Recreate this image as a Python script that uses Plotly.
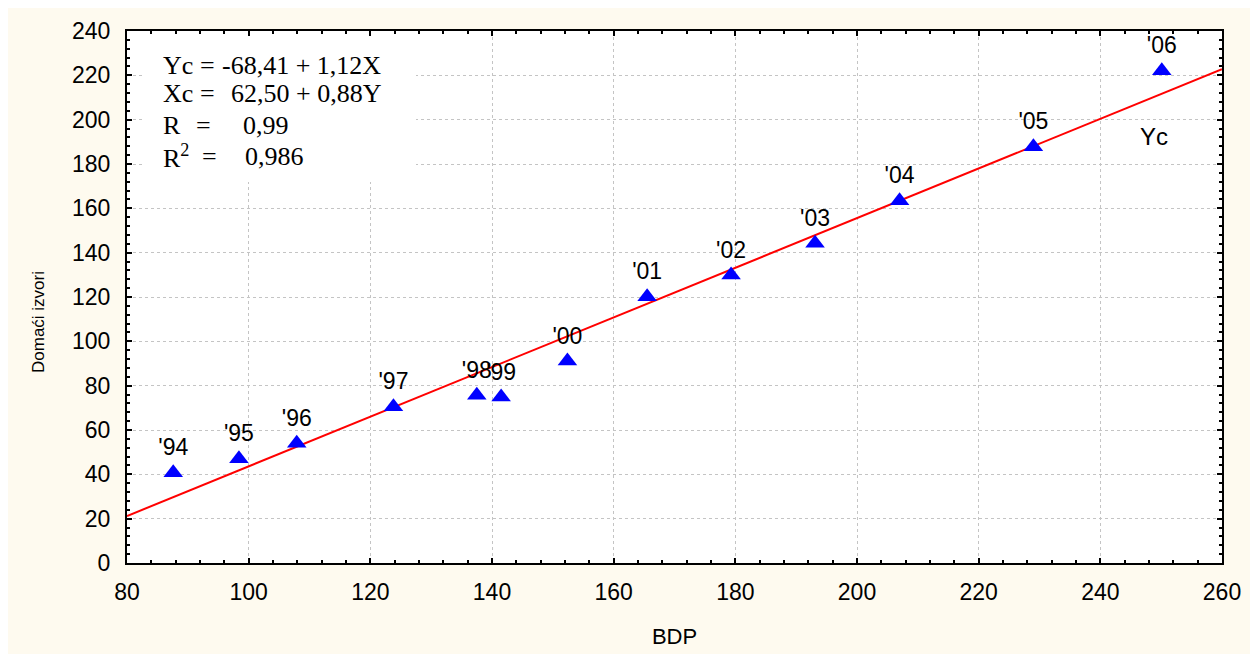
import plotly.graph_objects as go

# ---- data ----
years = ["'94", "'95", "'96", "'97", "'98", "'99", "'00", "'01", "'02", "'03", "'04", "'05", "'06"]
bdp = [87.6, 98.4, 107.9, 123.8, 137.5, 141.5, 152.4, 165.5, 179.3, 193.1, 207.0, 229.0, 250.1]
domaci_izvori = [40.7, 47.0, 54.0, 70.5, 75.7, 74.9, 91.1, 120.1, 129.9, 144.3, 163.4, 187.8, 222.1]

intercept = -68.41
slope = 1.12
fit_x = [80, 260]
fit_y = [intercept + slope * v for v in fit_x]

x_ticks = list(range(80, 261, 20))
y_ticks = list(range(0, 241, 20))

# page geometry (the page body adds an 8 px offset)
OFF = 8
PAGE_W, PAGE_H = 1258, 654
L, R, T, B = 127, 1222, 31, 563          # plot area in page pixels
W, H = PAGE_W - OFF, PAGE_H - OFF
CREAM = "#FEFAEF"


def dx(px):
    return 80 + (px - L) * 180 / (R - L)


def dy(py):
    return (B - py) * 240 / (B - T)


fig = go.Figure()

fig.add_trace(go.Scatter(
    x=fit_x, y=fit_y, mode="lines",
    line=dict(color="#FF0000", width=2),
    hoverinfo="skip", showlegend=False,
))

fig.add_trace(go.Scatter(
    x=bdp, y=domaci_izvori, mode="markers+text",
    text=years, textposition="top center",
    textfont=dict(family="Arial, Liberation Sans", size=23, color="black"),
    marker=dict(symbol="triangle-up", size=17, color="#0000FF", line=dict(width=0)),
    cliponaxis=False, showlegend=False,
))

axis_common = dict(
    ticks="inside", ticklen=5, tickwidth=1.5, tickcolor="black",
    showline=True, linewidth=2, linecolor="black", mirror="ticks",
    showgrid=True, gridcolor="#C4C4C4", gridwidth=1, griddash="3px,3px",
    zeroline=False, automargin=False,
    tickfont=dict(family="Arial, Liberation Sans", size=23, color="black"),
    minor=dict(ticks="inside", ticklen=3, tickwidth=1.5, tickcolor="black", showgrid=False),
)

fig.update_xaxes(
    range=[80, 260], tickvals=x_ticks, ticklabelstandoff=7,
    title=dict(text="BDP", font=dict(family="Arial, Liberation Sans", size=22, color="black"), standoff=25),
    **axis_common,
)
fig.update_xaxes(minor=dict(dtick=4, tick0=80))
fig.update_yaxes(
    range=[0, 240], tickvals=y_ticks, ticklabelstandoff=10,
    **axis_common,
)
fig.update_yaxes(minor=dict(dtick=4, tick0=0))

shapes = [
    # white box under the equations, hiding grid lines
    dict(type="rect", xref="x", yref="y", x0=dx(143), x1=dx(416), y0=dy(182), y1=240,
         fillcolor="white", line=dict(width=0), layer="between"),
]

serif = dict(family="Liberation Serif, Times New Roman, serif", size=26, color="black")
rows = [
    (65, [(161, "Yc"), (198, "="), (220, "-68,41 + 1,12X")]),
    (93, [(161, "Xc"), (198, "="), (229, "62,50 + 0,88Y")]),
    (125, [(161, "R"), (194, "="), (241, "0,99")]),
    (156, [(161, "R<sup>2</sup>"), (200, "="), (243, "0,986")]),
]
annotations = []
for py, parts in rows:
    for px, txt in parts:
        annotations.append(dict(
            x=dx(px), y=dy(py), xref="x", yref="y", text=txt, showarrow=False,
            xanchor="left", yanchor="middle", font=serif,
        ))
annotations.append(dict(
    x=dx(1154), y=dy(136), xref="x", yref="y", text="Yc", showarrow=False,
    xanchor="center", yanchor="middle",
    font=dict(family="Arial, Liberation Sans", size=24, color="black"),
))
# y-axis title (placed lower than the plot centre, as in the reference)
annotations.append(dict(
    x=(38 - L) / (R - L), y=(B - 322) / (B - T), xref="paper", yref="paper",
    text="Domaći izvori", textangle=-90, showarrow=False,
    xanchor="center", yanchor="middle",
    font=dict(family="Arial, Liberation Sans", size=17, color="black"),
))

fig.update_layout(
    width=W, height=H,
    margin=dict(l=L - OFF, r=PAGE_W - R, t=T - OFF, b=PAGE_H - B, pad=0),
    paper_bgcolor=CREAM, plot_bgcolor="white",
    shapes=shapes, annotations=annotations,
    showlegend=False,
)

fig.write_html("out.html")
